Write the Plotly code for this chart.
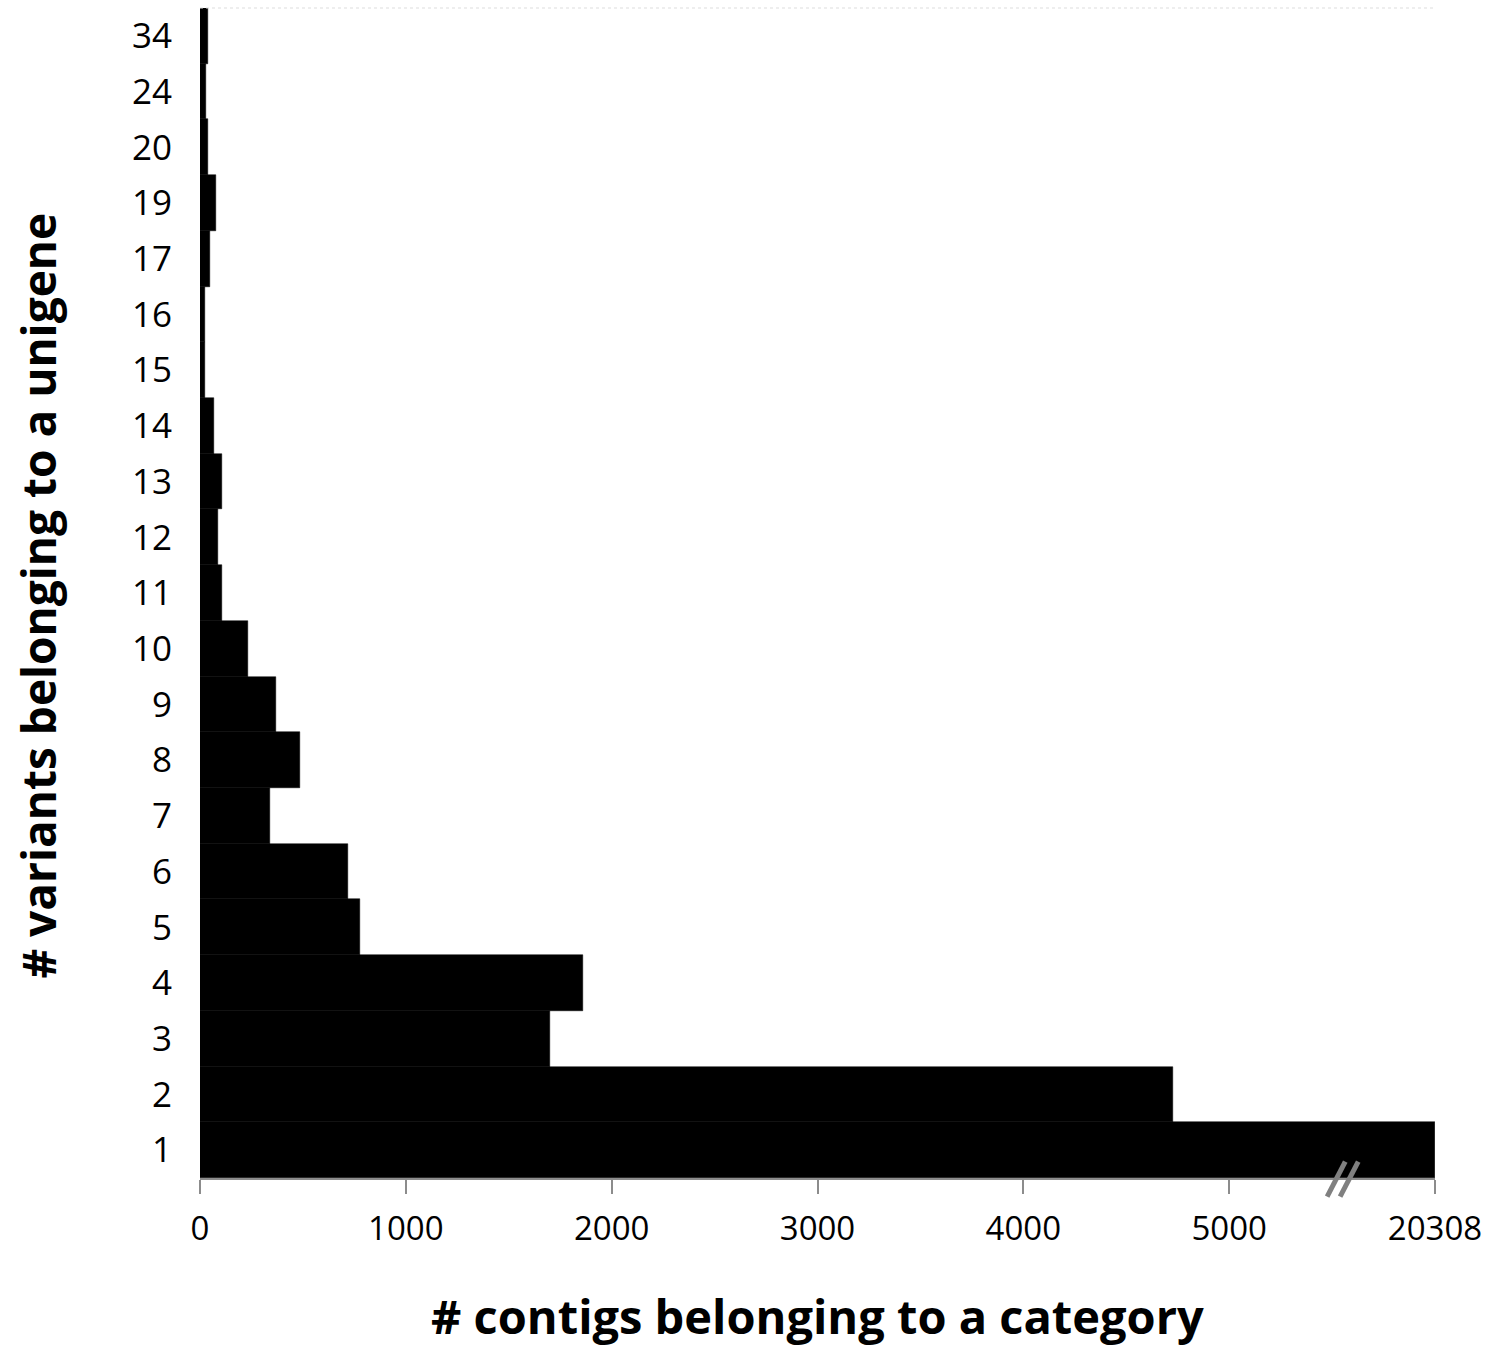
import plotly.graph_objects as go

# number of variants per unigene (category) and contigs in each
variants = ["1", "2", "3", "4", "5", "6", "7", "8", "9", "10", "11",
            "12", "13", "14", "15", "16", "17", "19", "20", "24", "34"]
contigs = [20308, 4728, 1701, 1860, 778, 720, 340, 485, 368, 233, 109,
           88, 109, 68, 26, 26, 49, 76, 39, 31, 39]

tick_vals = [0, 1000, 2000, 3000, 4000, 5000, 6000]
tick_text = ["0", "1000", "2000", "3000", "4000", "5000", "20308"]

x_title = "# contigs belonging to a category"
y_title = "# variants belonging to a unigene"

# broken axis: anything past 5000 is drawn at the last tick
BREAK_AT = 5000
TOP_POS = 6000
x_drawn = [v if v <= BREAK_AT else TOP_POS for v in contigs]

FONT = "Open Sans"

fig = go.Figure(go.Bar(
    x=x_drawn, y=variants, orientation="h",
    marker=dict(color="black", line=dict(color="black", width=0.5)),
    customdata=contigs,
    hovertemplate="%{y}: %{customdata}<extra></extra>",
))

fig.update_layout(
    width=1486, height=1348,
    margin=dict(l=200, r=51, t=8, b=170),
    plot_bgcolor="white", paper_bgcolor="white",
    bargap=0, showlegend=False,
    font=dict(family=FONT, size=33, color="black"),
)

fig.update_xaxes(
    range=[0, TOP_POS], tickvals=tick_vals, ticktext=tick_text,
    showgrid=False, zeroline=False, automargin=False,
    showline=True, linecolor="#8c8c8c", linewidth=2,
    ticks="outside", ticklen=14, tickcolor="#8c8c8c", tickwidth=2,
    ticklabelstandoff=6, tickfont=dict(size=33),
)
fig.update_yaxes(
    type="category", categoryorder="array", categoryarray=variants,
    showgrid=False, zeroline=False, showline=False, ticks="",
    automargin=False, ticklabelstandoff=27, tickfont=dict(size=35),
)

# axis titles
fig.add_annotation(text="<b>" + x_title + "</b>", xref="paper", yref="paper",
                   x=0.5, y=-0.118, xanchor="center", yanchor="middle",
                   showarrow=False, font=dict(size=47))
fig.add_annotation(text="<b>" + y_title + "</b>", xref="paper", yref="paper",
                   x=-0.131, y=0.498, xanchor="center", yanchor="middle",
                   textangle=-90, showarrow=False, font=dict(size=46))

# break marks on the x axis
for x0, x1 in [(5476, 5564), (5539, 5627)]:
    fig.add_shape(type="line", xref="x", yref="paper",
                  x0=x0, x1=x1, y0=-0.016, y1=0.014,
                  line=dict(color="#808080", width=5))

# faint top border
fig.add_shape(type="line", xref="paper", yref="paper",
              x0=0, x1=1, y0=1, y1=1,
              line=dict(color="#dddddd", width=1, dash="dot"))

# page body has an 8px default margin, drop it so the figure sits at 0,0
fig.write_html("out.html", config={"displayModeBar": False},
               post_script="document.body.style.margin='0';")
